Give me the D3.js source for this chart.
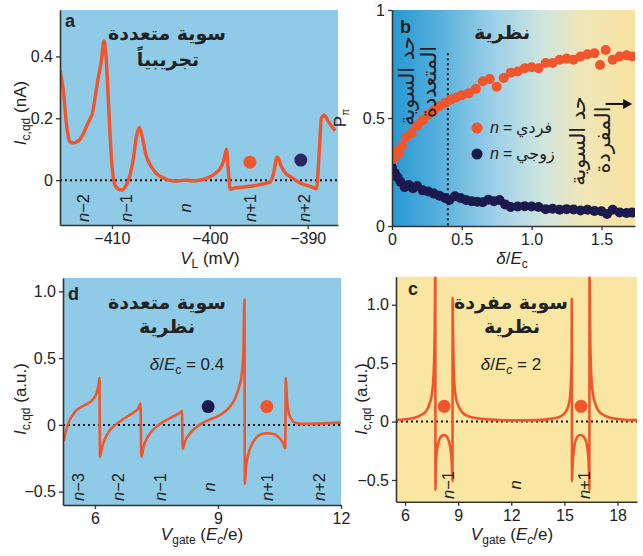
<!DOCTYPE html>
<html><head><meta charset="utf-8">
<script src="https://cdn.jsdelivr.net/npm/d3@7"></script>
<style>
body{margin:0;background:#fff}
svg{display:block}
text{font-family:"Liberation Sans",Arial,sans-serif;fill:#222}
.ar{font-family:"DejaVu Sans",sans-serif}
</style>
</head><body>
<svg id="c" width="643" height="556"></svg>
<script>
// ---------- Panel a : experiment ----------
const aV = [-415.3,-415.0,-414.6,-414.3,-414.0,-413.5,-413.0,-412.5,-412.2,-412.0,-411.7,-411.4,-411.1,-410.8,-410.6,-410.3,-410.0,-409.7,-409.3,-409.0,-408.6,-408.2,-407.8,-407.5,-407.2,-406.9,-406.5,-406.0,-405.4,-404.8,-404.2,-403.5,-402.5,-401.5,-400.5,-400.0,-399.5,-399.0,-398.6,-398.3,-398.1,-397.9,-397.5,-396.5,-395.5,-394.5,-393.8,-393.5,-393.1,-392.7,-392.2,-391.7,-391.0,-390.3,-389.6,-389.1,-388.8,-388.6,-388.3,-387.9,-387.2];
const aI = [0.355,0.30,0.17,0.125,0.12,0.125,0.145,0.18,0.20,0.215,0.27,0.33,0.38,0.45,0.40,0.22,0.05,-0.015,-0.03,-0.032,-0.02,0.01,0.07,0.14,0.17,0.14,0.08,0.045,0.02,0.008,0.0,-0.003,0.0,-0.002,0.004,0.01,0.02,0.035,0.06,0.10,0.03,-0.03,-0.026,-0.022,-0.018,-0.012,-0.005,0.02,0.075,0.045,0.02,0.01,-0.005,-0.015,-0.022,-0.028,0.10,0.20,0.21,0.19,0.16];
const aXTicks = [-410,-400,-390];
const aYTicks = [0,0.2,0.4];
const aStates = ["n−2","n−1","n","n+1","n+2"];
const aStateV = [-412.9,-408.6,-402.5,-395.9,-390.4];
const aDots = [[-395.9,0.058],[-390.7,0.065]];

// ---------- Panel b : theory P ----------
const bOddX = [0.01,0.03,0.05,0.07,0.10,0.14,0.18,0.22,0.26,0.30,0.34,0.38,0.42,0.46,0.50,0.55,0.60,0.65,0.70,0.75,0.80,0.85,0.90,0.95,1.00,1.05,1.10,1.15,1.20,1.25,1.30,1.35,1.40,1.45,1.49,1.53,1.58,1.63,1.68,1.72];
const bOddP = [0.31,0.345,0.335,0.37,0.41,0.43,0.465,0.49,0.515,0.535,0.555,0.57,0.585,0.595,0.605,0.615,0.635,0.67,0.68,0.645,0.685,0.71,0.715,0.73,0.735,0.73,0.755,0.755,0.77,0.775,0.77,0.785,0.795,0.80,0.745,0.815,0.77,0.785,0.79,0.785];
const bEvenX = [0.0,0.02,0.04,0.06,0.09,0.12,0.15,0.18,0.22,0.26,0.30,0.34,0.38,0.41,0.45,0.49,0.53,0.57,0.61,0.65,0.69,0.73,0.77,0.81,0.85,0.90,0.95,1.00,1.05,1.10,1.15,1.20,1.25,1.30,1.35,1.40,1.45,1.50,1.54,1.58,1.63,1.68,1.72];
const bEvenP = [0.27,0.245,0.225,0.205,0.18,0.19,0.175,0.185,0.165,0.16,0.15,0.14,0.13,0.12,0.138,0.13,0.12,0.115,0.112,0.11,0.122,0.115,0.12,0.10,0.088,0.09,0.092,0.09,0.088,0.078,0.08,0.075,0.078,0.076,0.072,0.075,0.07,0.068,0.056,0.075,0.063,0.06,0.062];
const bXTicks = [0,0.5,1.0,1.5];
const bYTicks = [0,0.5,1];
const bBoundary = 0.4;

// ---------- Panel c : single level theory ----------
const cX = [5.49,6.0,6.5,6.9,7.2,7.4,7.5,7.58,7.64,7.68,7.71,7.72,7.73,7.76,7.82,7.9,8.0,8.1,8.2,8.3,8.4,8.5,8.58,8.64,8.68,8.69,8.71,8.74,8.8,8.88,9.0,9.2,9.5,10.0,10.8,11.8,12.5,13.5,14.3,14.8,15.1,15.25,15.33,15.38,15.41,15.42,15.43,15.47,15.53,15.6,15.7,15.8,15.92,16.02,16.12,16.22,16.3,16.36,16.39,16.41,16.42,16.45,16.49,16.55,16.63,16.73,16.93,17.23,17.63,18.13,18.6,19.1];
const cI = [0.012,0.02,0.03,0.055,0.09,0.16,0.22,0.32,0.5,0.8,1.3,-0.585,-0.45,-0.32,-0.23,-0.17,-0.135,-0.12,-0.115,-0.12,-0.14,-0.18,-0.25,-0.35,-0.51,1.06,0.8,0.5,0.3,0.2,0.14,0.085,0.05,0.03,0.017,0.01,0.01,0.012,0.025,0.045,0.09,0.15,0.23,0.38,0.6,1.05,-0.51,-0.35,-0.25,-0.18,-0.14,-0.12,-0.115,-0.12,-0.135,-0.17,-0.23,-0.32,-0.45,-0.585,1.3,0.8,0.5,0.32,0.22,0.16,0.09,0.055,0.03,0.02,0.014,0.012];
const cXTicks = [6,9,12,15,18];
const cYTicks = [-0.5,0,0.5,1.0];
const cStates = ["n−1","n","n+1"];
const cStateX = [8.4,12.2,16.1];
const cDots = [[8.21,0.13],[15.94,0.13]];

// ---------- Panel d : multi level theory ----------
const dX = [5.24,5.29,5.35,5.45,5.55,5.7,5.85,5.95,6.03,6.08,6.11,6.12,6.17,6.25,6.35,6.5,6.65,6.8,6.95,7.05,7.11,7.13,7.18,7.25,7.35,7.5,7.65,7.8,7.95,8.07,8.12,8.14,8.2,8.3,8.42,8.6,8.8,9.0,9.15,9.3,9.42,9.52,9.58,9.62,9.645,9.655,9.68,9.74,9.82,9.92,10.05,10.2,10.35,10.45,10.53,10.6,10.64,10.655,10.68,10.72,10.78,10.85,11.0,11.5,12.0];
const dI = [-0.12,-0.05,0.013,0.07,0.11,0.14,0.165,0.19,0.23,0.29,0.35,-0.24,-0.17,-0.1,-0.045,0.0,0.035,0.065,0.095,0.12,0.16,-0.24,-0.17,-0.11,-0.06,-0.013,0.02,0.045,0.07,0.09,0.105,-0.18,-0.12,-0.07,-0.03,0.01,0.04,0.065,0.095,0.14,0.2,0.29,0.38,0.55,0.94,-0.44,-0.33,-0.22,-0.15,-0.1,-0.07,-0.063,-0.068,-0.085,-0.11,-0.145,-0.175,0.35,0.2,0.1,0.05,0.02,0.008,0.01,0.017];
const dXTicks = [6,9,12];
const dYTicks = [-0.5,0,0.5,1.0];
const dStates = ["n−3","n−2","n−1","n","n+1","n+2"];
const dStateX = [5.58,6.56,7.58,8.79,10.2,11.47];
const dDots = [[8.76,0.137],[10.19,0.137]];

// ---------- drawing ----------
const ORANGE = "#f0552b", NAVY = "#1c1a4c", BLUE = "#8fcbe6", YELLOW = "#f9e6a2", AX = "#333";
const svg = d3.select("#c");
svg.append("rect").attr("width",643).attr("height",556).attr("fill","#fff");
const defs = svg.append("defs");
const gr = defs.append("linearGradient").attr("id","gb").attr("x1",0).attr("x2",1).attr("y1",0).attr("y2",0);
[[0,"#2898d2"],[0.18,"#52aedc"],[0.42,"#9dd0e8"],[0.62,"#cfe5e0"],[0.78,"#efe6b8"],[1,"#f8e2a0"]]
  .forEach(s=>gr.append("stop").attr("offset",s[0]).attr("stop-color",s[1]));

function panel(id, xs, ys, fill){
  const [x0,x1]=xs.range(), [y1,y0]=ys.range();
  svg.append("rect").attr("x",x0).attr("y",y0).attr("width",x1-x0).attr("height",y1-y0).attr("fill",fill);
  defs.append("clipPath").attr("id",id).append("rect").attr("x",x0).attr("y",y0).attr("width",x1-x0).attr("height",y1-y0);
  return svg.append("g").attr("clip-path",`url(#${id})`);
}
function axes(xs, ys, xt, yt, xf, yf){
  const [x0]=xs.range(), [y1]=ys.range();
  const gx = svg.append("g").attr("transform",`translate(0,${y1})`)
    .call(d3.axisBottom(xs).tickValues(xt).tickFormat(xf).tickSize(4).tickSizeOuter(0).tickPadding(4));
  const gy = svg.append("g").attr("transform",`translate(${x0},0)`)
    .call(d3.axisLeft(ys).tickValues(yt).tickFormat(yf).tickSize(4).tickSizeOuter(0).tickPadding(3));
  [gx,gy].forEach(g=>{
    g.select(".domain").attr("stroke",AX).attr("stroke-width",1.6);
    g.selectAll(".tick line").attr("stroke",AX).attr("stroke-width",1.3);
    g.selectAll(".tick text").attr("font-size",16).attr("fill","#222").attr("font-family","Liberation Sans, Arial, sans-serif");
  });
}
function zeroLine(g, xs, ys){
  g.append("line").attr("x1",xs.range()[0]).attr("x2",xs.range()[1]).attr("y1",ys(0)).attr("y2",ys(0))
   .attr("stroke","#111").attr("stroke-width",2).attr("stroke-dasharray","2,3");
}
function curve(g, xs, ys, X, Y, w){
  const pts = X.map((v,i)=>[v,Y[i]]);
  g.append("path").attr("d", d3.line().x(d=>xs(d[0])).y(d=>ys(d[1])).curve(d3.curveMonotoneX)(pts))
   .attr("fill","none").attr("stroke",ORANGE).attr("stroke-width",w).attr("stroke-linejoin","round");
}
function stateLabels(xs, names, pos, y){
  names.forEach((n,i)=>{
    const t = svg.append("text").attr("transform",`translate(${xs(pos[i])},${y}) rotate(-90)`)
      .attr("text-anchor","middle").attr("dominant-baseline","central").attr("font-size",16.5).attr("fill","#1a1a1a");
    t.append("tspan").attr("font-style","italic").text("n");
    if(n.length>1) t.append("tspan").text(n.slice(1));
  });
}
function arText(x,y,s,size,weight,anchor){
  return svg.append("text").attr("class","ar").attr("x",x).attr("y",y).attr("text-anchor",anchor||"middle")
    .attr("font-size",size).attr("font-weight",weight||"bold").attr("fill","#111").text(s);
}
function letter(x,y,s){
  svg.append("text").attr("x",x).attr("y",y).attr("font-size",18).attr("font-weight","bold").attr("fill","#111").text(s);
}
function yTitle(x,y,unit){
  const t = svg.append("text").attr("transform",`translate(${x},${y}) rotate(-90)`).attr("text-anchor","middle").attr("font-size",17);
  t.append("tspan").attr("font-style","italic").text("I");
  t.append("tspan").attr("font-size","12").attr("dy","4").text("c,qd");
  t.append("tspan").attr("dy","-4").text(" "+unit);
}
function vgateTitle(x,y){
  const t = svg.append("text").attr("x",x).attr("y",y).attr("text-anchor","middle").attr("font-size",17);
  t.append("tspan").attr("font-style","italic").text("V");
  t.append("tspan").attr("font-size","12").attr("dy","4").text("gate");
  t.append("tspan").attr("dy","-4").text(" (");
  t.append("tspan").attr("font-style","italic").text("E");
  t.append("tspan").attr("font-size","12").attr("dy","4").attr("font-style","italic").text("c");
  t.append("tspan").attr("dy","-4").text("/e)");
}
function deltaText(x,y,val,italC){
  const t = svg.append("text").attr("x",x).attr("y",y).attr("text-anchor","middle").attr("font-size",17);
  t.append("tspan").attr("font-style","italic").text("δ");
  t.append("tspan").text("/");
  t.append("tspan").attr("font-style","italic").text("E");
  t.append("tspan").attr("font-size","12").attr("dy","4").attr("font-style",italC?"italic":null).text("c");
  t.append("tspan").attr("dy","-4").text(" = "+val);
}
const f1 = d => d===0 ? "0" : d3.format(".1f")(d);

// ---- a ----
const xa = d3.scaleLinear().domain([-415.3,-386.9]).range([60,338]);
const ya = d3.scaleLinear().domain([-0.145,0.55]).range([225,10]);
const ga = panel("ca", xa, ya, BLUE);
zeroLine(ga, xa, ya);
curve(ga, xa, ya, aV, aI, 3.4);
ga.selectAll("circle").data(aDots).join("circle").attr("cx",d=>xa(d[0])).attr("cy",d=>ya(d[1])).attr("r",6.5)
  .attr("fill",(d,i)=>i===0?ORANGE:"#2b2466");
axes(xa, ya, aXTicks, aYTicks, d3.format("d"), f1);
stateLabels(xa, aStates, aStateV, 208);
letter(65,27,"a");
arText(167,40,"سوية متعددة",19);
arText(168,66,"تجريبياً",19);
yTitle(26,113,"(nA)");
{ const t = svg.append("text").attr("x",210).attr("y",264).attr("text-anchor","middle").attr("font-size",17);
  t.append("tspan").attr("font-style","italic").text("V");
  t.append("tspan").attr("font-size","12").attr("dy","4").text("L");
  t.append("tspan").attr("dy","-4").text(" (mV)"); }

// ---- b ----
const xb = d3.scaleLinear().domain([0,1.74]).range([392,635]);
const yb = d3.scaleLinear().domain([0,1]).range([226,10]);
const gb = panel("cb", xb, yb, "url(#gb)");
gb.append("line").attr("x1",xb(bBoundary)).attr("x2",xb(bBoundary)).attr("y1",yb(0.8)).attr("y2",yb(0))
  .attr("stroke","#111").attr("stroke-width",2).attr("stroke-dasharray","2,3");
gb.selectAll("circle.e").data(bEvenX.map((v,i)=>[v,bEvenP[i]])).join("circle").attr("class","e")
  .attr("cx",d=>xb(d[0])).attr("cy",d=>yb(d[1])).attr("r",5).attr("fill",NAVY);
gb.selectAll("circle.o").data(bOddX.map((v,i)=>[v,bOddP[i]])).join("circle").attr("class","o")
  .attr("cx",d=>xb(d[0])).attr("cy",d=>yb(d[1])).attr("r",5).attr("fill",ORANGE);
axes(xb, yb, bXTicks, bYTicks, d=>d===0?"0":d3.format(".1f")(d), d=>d===0?"0":d===1?"1":"0.5");
letter(400,33,"b");
arText(502,39,"نظرية",19);
// vertical labels
[[407,81,"حد السوية"],[429,82,"المتعددة"],[578,141,"حد السوية"],[603,140,"المفردة"]].forEach(v=>{
  svg.append("text").attr("class","ar").attr("transform",`translate(${v[0]},${v[1]}) rotate(-90)`)
    .attr("text-anchor","middle").attr("dominant-baseline","central").attr("font-size",21).attr("fill","#111").text(v[2]);
});
// arrow
svg.append("line").attr("x1",xb(1.53)).attr("x2",xb(1.68)).attr("y1",yb(0.565)).attr("y2",yb(0.565)).attr("stroke","#111").attr("stroke-width",2);
svg.append("path").attr("d",`M${xb(1.72)},${yb(0.565)} l-9,-5 l0,10 z`).attr("fill","#111");
// legend
[[128,ORANGE,"فردي"],[154,NAVY,"زوجي"]].forEach(l=>{
  svg.append("circle").attr("cx",477).attr("cy",l[0]).attr("r",5.5).attr("fill",l[1]);
  svg.append("text").attr("x",490).attr("y",l[0]+5).attr("font-size",16).attr("font-style","italic").text("n");
  svg.append("text").attr("x",503).attr("y",l[0]+5).attr("font-size",16).text("=");
  arText(516,l[0]+5,l[2],16,"normal","start");
});
{ const t = svg.append("text").attr("transform","translate(346,118) rotate(-90)").attr("text-anchor","middle").attr("font-size",17);
  t.append("tspan").text("P");
  t.append("tspan").attr("font-size","10").attr("dy","3").text("π"); }
{ const t = svg.append("text").attr("x",512).attr("y",264).attr("text-anchor","middle").attr("font-size",17);
  t.append("tspan").attr("font-style","italic").text("δ");
  t.append("tspan").text("/");
  t.append("tspan").attr("font-style","italic").text("E");
  t.append("tspan").attr("font-size","12").attr("dy","4").text("c"); }

// ---- d ----
const xd = d3.scaleLinear().domain([5.22,12]).range([63,341]);
const yd = d3.scaleLinear().domain([-0.6,1.10]).range([505,278]);
const gd = panel("cd", xd, yd, BLUE);
zeroLine(gd, xd, yd);
curve(gd, xd, yd, dX, dI, 2.6);
gd.selectAll("circle").data(dDots).join("circle").attr("cx",d=>xd(d[0])).attr("cy",d=>yd(d[1])).attr("r",6.5)
  .attr("fill",(d,i)=>i===0?NAVY:ORANGE);
axes(xd, yd, dXTicks, dYTicks, d3.format("d"), f1);
stateLabels(xd, dStates, dStateX, 487);
letter(68,300,"d");
arText(167,309,"سوية متعددة",19);
arText(167,333,"نظرية",19);
deltaText(187,370,"0.4",false);
yTitle(26,399,"(a.u.)");
vgateTitle(202,540);

// ---- c ----
const xc = d3.scaleLinear().domain([5.49,19.1]).range([396,637]);
const yc = d3.scaleLinear().domain([-0.686,1.24]).range([501.7,276.7]);
const gc = panel("cc", xc, yc, YELLOW);
zeroLine(gc, xc, yc);
curve(gc, xc, yc, cX, cI, 2.6);
gc.selectAll("circle").data(cDots).join("circle").attr("cx",d=>xc(d[0])).attr("cy",d=>yc(d[1])).attr("r",6.5).attr("fill",ORANGE);
axes(xc, yc, cXTicks, cYTicks, d3.format("d"), f1);
stateLabels(xc, cStates, cStateX, 485);
letter(408,295,"c");
arText(511,309,"سوية مفردة",19);
arText(512,333,"نظرية",19);
deltaText(511,370,"2",true);
yTitle(367,399,"(a.u.)");
vgateTitle(512,540);
</script>
</body></html>
